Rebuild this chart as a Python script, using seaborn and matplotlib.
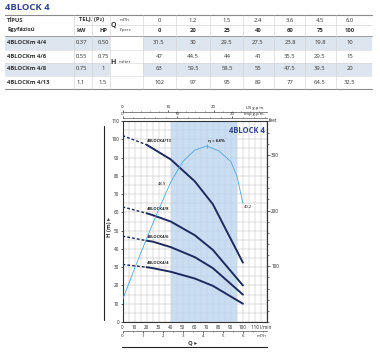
import matplotlib
matplotlib.use("Agg")
import matplotlib.pyplot as plt
import seaborn as sns
from matplotlib.patches import Rectangle
from matplotlib.ticker import MultipleLocator, FixedLocator

# ---------------- data ----------------
models = ["4BLOCKm 4/4", "4BLOCKm 4/6", "4BLOCKm 4/8", "4BLOCKm 4/13"]
curve_labels = ["4BLOCK4/4", "4BLOCK4/6", "4BLOCK4/8", "4BLOCK4/13"]
power_kw = ["0.37", "0.55", "0.75", "1.1"]
power_hp = ["0.50", "0.75", "1", "1.5"]
q_m3h = ["0", "1.2", "1.5", "2.4", "3.6", "4.5", "6.0"]
q_lmin = [0, 20, 25, 40, 60, 75, 100]
head_4_4 = [31.5, 30, 29.5, 27.5, 23.8, 19.8, 10]
head_4_6 = [47, 44.5, 44, 41, 35.5, 29.5, 15]
head_4_8 = [63, 59.5, 58.5, 55, 47.5, 39.5, 20]
head_4_13 = [102, 97, 95, 89, 77, 64.5, 32.5]
heads = [head_4_4, head_4_6, head_4_8, head_4_13]
eff_q = [0, 10, 20, 30, 40, 50, 60, 70, 80, 90, 95, 100]
eff_pct = [0, 13, 25.5, 37.5, 48.9, 57.5, 62.3, 64, 62, 57.5, 51.5, 40.2]
range_lmin = [40, 95]
x_ticks = [0, 10, 20, 30, 40, 50, 60, 70, 80, 90, 100, 110]
x_ticklabels = ["0", "10", "20", "30", "40", "50", "60", "70", "80", "90", "100", ""]
y_ticks = [0, 10, 20, 30, 40, 50, 60, 70, 80, 90, 100, 110]
m3h_ticks = [0, 1, 2, 3, 4, 5, 6]
gpm_ticks = [0, 10, 20]
feet_ticks = [100, 200, 300]

sns.set_style("white")
plt.rcParams["font.family"] = ["Open Sans", "DejaVu Sans"]

NAVY = "#1d2a5e"
TITLE = "#34468f"
TXT = "#333333"
SHADE = "#dde5ee"
LBLUE = "#4fa7dc"

fig = plt.figure(figsize=(3.8, 3.52), dpi=100)

# ---------------- overlay (table & decorations) in pixel coords ----------------
ov = fig.add_axes([0, 0, 1, 1])
ov.set_xlim(0, 380)
ov.set_ylim(352, 0)
ov.axis("off")

ov.text(5, 7.5, "4BLOCK 4", fontsize=6.8, fontweight="bold", color=TITLE, va="center", ha="left")

x_l, x_r = 5, 372
val_x = [159, 193, 227, 258, 290, 320, 350]
row_y = [43, 56, 69, 82]
for i in (0, 2):
    ov.add_patch(Rectangle((x_l, row_y[i] - 6.5), 110 - x_l, 13, color=SHADE, lw=0))
    ov.add_patch(Rectangle((143, row_y[i] - 6.5), x_r - 143, 13, color=SHADE, lw=0))
ov.plot([x_l, x_r], [14.5, 14.5], color="#8a8a8a", lw=0.8)
ov.plot([x_l, x_r], [36, 36], color="#8a8a8a", lw=0.6)
ov.plot([x_l, x_r], [88.5, 88.5], color="#8a8a8a", lw=0.8)
ov.plot([74, 110], [25, 25], color="#c8c8c8", lw=0.4)
ov.plot([118, x_r], [25, 25], color="#c8c8c8", lw=0.4)
for yy in (49.5, 62.5, 75.5):
    ov.plot([x_l, x_r], [yy, yy], color="#d5d5d5", lw=0.4)
for xx in (74, 92, 110, 143, 176, 210, 243, 274, 305, 336):
    ov.plot([xx, xx], [14.5, 88.5], color="#d0d0d0", lw=0.4)

fs = 4.2
ov.text(7, 20, "TÍPUS", fontsize=fs, fontweight="bold", color=TXT, va="center")
ov.text(7, 30, "Egyfázisú", fontsize=fs, fontweight="bold", color=TXT, va="center")
ov.text(92, 20, "TELJ. (P₂)", fontsize=fs, fontweight="bold", color=TXT, va="center", ha="center")
ov.text(81, 30, "kW", fontsize=fs, fontweight="bold", color=TXT, va="center", ha="center")
ov.text(103, 30, "HP", fontsize=fs, fontweight="bold", color=TXT, va="center", ha="center")
ov.text(113, 25, "Q", fontsize=5, fontweight="bold", color=TXT, va="center", ha="center")
ov.text(120, 20, "m³/h", fontsize=3.2, color=TXT, va="center", ha="left")
ov.text(120, 30, "l/perc", fontsize=3.2, color=TXT, va="center", ha="left")
ov.text(113, 62, "H", fontsize=5, fontweight="bold", color=TXT, va="center", ha="center")
ov.text(119, 62, "méter", fontsize=3.2, color=TXT, va="center", ha="left")
for j, xx in enumerate(val_x):
    ov.text(xx, 20, q_m3h[j], fontsize=fs, color=TXT, va="center", ha="center")
    ov.text(xx, 30, str(q_lmin[j]), fontsize=fs, fontweight="bold", color=TXT, va="center", ha="center")
for i, yy in enumerate(row_y):
    ov.text(7, yy, models[i], fontsize=fs, fontweight="bold", color=TXT, va="center")
    ov.text(81, yy, power_kw[i], fontsize=fs, color=TXT, va="center", ha="center")
    ov.text(103, yy, power_hp[i], fontsize=fs, color=TXT, va="center", ha="center")
    for j, xx in enumerate(val_x):
        ov.text(xx, yy, f"{heads[i][j]:g}", fontsize=fs, color=TXT, va="center", ha="center")

ov.plot([104, 104], [126, 320], color="#222222", lw=0.8)
ov.text(110, 227, "H (m) ▸", fontsize=4.2, fontweight="bold", color=TXT, rotation=90, va="center", ha="center")
ov.plot([122, 267], [347, 347], color="#222222", lw=0.8)
ov.text(193, 342.5, "Q ▸", fontsize=4.2, fontweight="bold", color=TXT, va="center", ha="center")

# ---------------- chart ----------------
top_px, bot_px, left_px, right_px = 121, 322, 122.5, 267
ax = fig.add_axes([left_px / 380, 1 - bot_px / 352, (right_px - left_px) / 380, (bot_px - top_px) / 352])
ax.set_xlim(0, 120)
ax.set_ylim(0, 110)
ax.xaxis.set_major_locator(FixedLocator(x_ticks))
ax.set_xticklabels(x_ticklabels)
ax.yaxis.set_major_locator(FixedLocator(y_ticks))
ax.xaxis.set_minor_locator(MultipleLocator(5))
ax.yaxis.set_minor_locator(MultipleLocator(5))
ax.grid(which="both", color="#bdbdbd", lw=0.35)
ax.set_axisbelow(True)
ax.axvspan(range_lmin[0], range_lmin[1], color="#b9d3ee", alpha=0.75, lw=0, zorder=1)
for s in ax.spines.values():
    s.set_color("#333333")
    s.set_linewidth(0.8)
ax.tick_params(which="major", length=1.5, width=0.5, labelsize=3.3, pad=1, colors="#222222")
ax.tick_params(which="minor", length=0)

for i, h in enumerate(heads):
    sns.lineplot(x=q_lmin[:2], y=h[:2], ax=ax, color=NAVY, lw=1.0, linestyle=(0, (2, 1.5)), zorder=3)
    sns.lineplot(x=q_lmin[1:], y=h[1:], ax=ax, color=NAVY, lw=1.4, zorder=3)
    ax.text(q_lmin[1], h[1] + 1, curve_labels[i], fontsize=3.0, fontweight="bold", color="#222222",
            ha="left", va="bottom", zorder=4)

ax.text(118, 107, "4BLOCK 4", fontsize=5.5, fontweight="bold", color=TITLE, ha="right", va="top", zorder=4)
ax.text(x_ticks[-1] - 3.2, -1.6, f"{x_ticks[-1]} l/min", fontsize=3.3, color="#222222", ha="left", va="top",
        zorder=4, clip_on=False)

# efficiency (hidden axis)
ax_e = ax.twinx()
ax_e.set_ylim(-9.2, 74.4)
ax_e.set_axis_off()
sns.lineplot(x=eff_q, y=eff_pct, ax=ax_e, color=LBLUE, lw=0.6)
ipk = eff_pct.index(max(eff_pct))
ax_e.plot([eff_q[ipk]], [eff_pct[ipk]], marker="|", color=LBLUE, ms=3, mew=0.6)
ax_e.annotate(f"η = {eff_pct[ipk]:g}%", (eff_q[ipk], eff_pct[ipk]), xytext=(1, 2), textcoords="offset points",
              fontsize=3.2, fontweight="bold", color="#222222", ha="left", va="bottom")
i48 = eff_q.index(40)
ax_e.annotate(f"{eff_pct[i48]:g}", (eff_q[i48], eff_pct[i48]), xytext=(-3, -1), textcoords="offset points",
              fontsize=3.0, color="#222222", ha="right", va="center")
ax_e.annotate(f"{eff_pct[-1]:g}", (eff_q[-1], eff_pct[-1]), xytext=(0.5, -1), textcoords="offset points",
              fontsize=3.0, color="#222222", ha="left", va="top")

# feet axis
sec_ft = ax.secondary_yaxis("right", functions=(lambda m: m * 3.28084, lambda f: f / 3.28084))
sec_ft.yaxis.set_major_locator(FixedLocator(feet_ticks))
sec_ft.yaxis.set_minor_locator(MultipleLocator(20))
sec_ft.tick_params(which="major", length=2, width=0.5, labelsize=3.3, pad=1, colors="#222222")
sec_ft.tick_params(which="minor", length=1.2, width=0.4)
sec_ft.spines["right"].set_linewidth(0.8)
ax.text(121.5, 110, "feet", fontsize=3.3, color="#222222", ha="left", va="center", clip_on=False)


def add_top(loc, factor, label):
    sa = ax.secondary_xaxis(loc, functions=(lambda q: q / factor, lambda g: g * factor))
    sa.xaxis.set_major_locator(FixedLocator(gpm_ticks))
    sa.xaxis.set_minor_locator(MultipleLocator(2))
    sa.tick_params(which="major", length=1.5, width=0.5, labelsize=3.2, pad=0.5, colors="#222222")
    sa.tick_params(which="minor", length=1.0, width=0.4)
    sa.spines["top"].set_linewidth(0.5)
    sa.spines["top"].set_color("#555555")
    ax.text(118, 110 + (loc - 1) * 110 + 1.0, label, fontsize=3.0, color="#222222", ha="right", va="bottom",
            clip_on=False)
    return sa


add_top(1 + 9.3 / 201, 3.785, "US g.p.m.")
add_top(1 + 2.7 / 201, 4.546, "Imp g.p.m.")

sm = ax.secondary_xaxis(-9.0 / 201, functions=(lambda q: q / 16.667, lambda m: m * 16.667))
sm.xaxis.set_major_locator(FixedLocator(m3h_ticks))
sm.xaxis.set_minor_locator(MultipleLocator(0.5))
sm.tick_params(which="major", length=1.5, width=0.5, labelsize=3.2, pad=1, colors="#222222")
sm.tick_params(which="minor", length=1.0, width=0.4)
sm.spines["bottom"].set_linewidth(0.5)
sm.spines["bottom"].set_color("#555555")
ax.text(120, -9.0 / 201 * 110 - 1.5, "m³/h", fontsize=3.2, color="#222222", ha="right", va="top", clip_on=False)

fig.savefig("out.png", dpi=100)
